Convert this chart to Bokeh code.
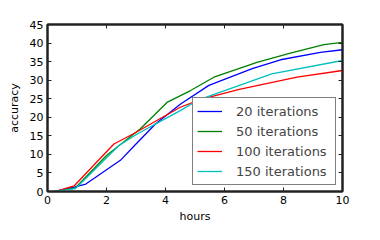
from bokeh.plotting import figure
from bokeh.models import LinearAxis, FixedTicker, Range1d, Legend, LegendItem, CustomJSTickFormatter
from bokeh.embed import file_html
from bokeh.resources import INLINE

x20 = [0.25, 0.9, 1.3, 2.47, 3.0, 3.66, 4.5, 5.47, 6.94, 7.9, 9.25, 10.0]
y20 = [0.0, 1.2, 2.0, 8.4, 12.8, 18.2, 23.5, 28.6, 33.1, 35.5, 37.5, 38.2]

x50 = [0.25, 0.95, 2.0, 3.15, 4.05, 4.85, 5.64, 7.1, 8.2, 9.37, 10.0]
y50 = [0.0, 1.0, 9.7, 16.9, 24.0, 27.2, 30.8, 34.8, 37.2, 39.6, 40.2]

x100 = [0.25, 0.9, 2.25, 2.9, 4.5, 5.2, 6.5, 8.46, 10.0]
y100 = [0.0, 1.5, 12.8, 15.5, 22.7, 24.8, 27.5, 30.8, 32.6]

x150 = [0.25, 0.95, 2.42, 3.04, 4.5, 5.1, 7.6, 10.0]
y150 = [0.0, 0.8, 12.4, 15.5, 21.8, 24.6, 31.7, 35.3]

labels = ["20 iterations", "50 iterations", "100 iterations", "150 iterations"]
colors = ["#0000ff", "#008000", "#ff0000", "#00bfbf"]
xticks = [0, 2, 4, 6, 8, 10]
yticks = [0, 5, 10, 15, 20, 25, 30, 35, 40, 45]

FONT = "DejaVu Sans"

p = figure(width=372, height=232, output_backend="svg", toolbar_location=None,
           x_range=Range1d(0, 10), y_range=Range1d(0, 45),
           min_border_left=47, min_border_right=30, min_border_top=24, min_border_bottom=41,
           x_axis_label="hours", y_axis_label="accuracy")
p.background_fill_color = "white"
p.border_fill_color = "white"
p.grid.visible = False
p.outline_line_color = "#222222"
p.outline_line_width = 2

renderers = []
for xs, ys, c in zip([x20, x50, x100, x150], [y20, y50, y100, y150], colors):
    r = p.line(xs, ys, line_color=c, line_width=1.3)
    renderers.append(r)

for ax in (p.xaxis[0], p.yaxis[0]):
    ax.major_tick_in = 4
    ax.major_tick_out = 0
    ax.minor_tick_in = 0
    ax.minor_tick_out = 0
    ax.axis_line_color = "#222222"
    ax.axis_line_width = 2
    ax.major_tick_line_color = "#222222"
    ax.major_label_text_font = FONT
    ax.major_label_text_font_size = "11px"
    ax.major_label_text_color = "black"
    ax.axis_label_text_font = FONT
    ax.axis_label_text_font_size = "11px"
    ax.axis_label_text_font_style = "normal"
    ax.axis_label_text_color = "black"
    ax.major_label_standoff = 4

p.xaxis[0].ticker = FixedTicker(ticks=xticks)
p.yaxis[0].ticker = FixedTicker(ticks=yticks)
p.xaxis[0].axis_label_standoff = 3
p.yaxis[0].axis_label_standoff = 6

blank = CustomJSTickFormatter(code="return '';")
top = LinearAxis(ticker=FixedTicker(ticks=xticks), major_tick_in=4, major_tick_out=0,
                 minor_tick_in=0, minor_tick_out=0, formatter=blank,
                 axis_line_color="#222222", axis_line_width=2, major_tick_line_color="#222222")
right = LinearAxis(ticker=FixedTicker(ticks=yticks), major_tick_in=4, major_tick_out=0,
                   minor_tick_in=0, minor_tick_out=0, formatter=blank,
                   axis_line_color="#222222", axis_line_width=2, major_tick_line_color="#222222")
p.add_layout(top, "above")
p.add_layout(right, "right")

legend = Legend(items=[LegendItem(label=l, renderers=[r]) for l, r in zip(labels, renderers)],
                location="bottom_right")
legend.label_text_font = FONT
legend.label_text_font_size = "13px"
legend.border_line_color = "black"
legend.border_line_width = 1.3
legend.background_fill_alpha = 1
legend.glyph_width = 25
legend.glyph_height = 18
legend.label_height = 18
legend.spacing = 2
legend.padding = 4
legend.margin = 6
legend.label_standoff = 14
legend.label_width = 95
p.add_layout(legend)

open("out.html", "w").write(file_html(p, INLINE))
